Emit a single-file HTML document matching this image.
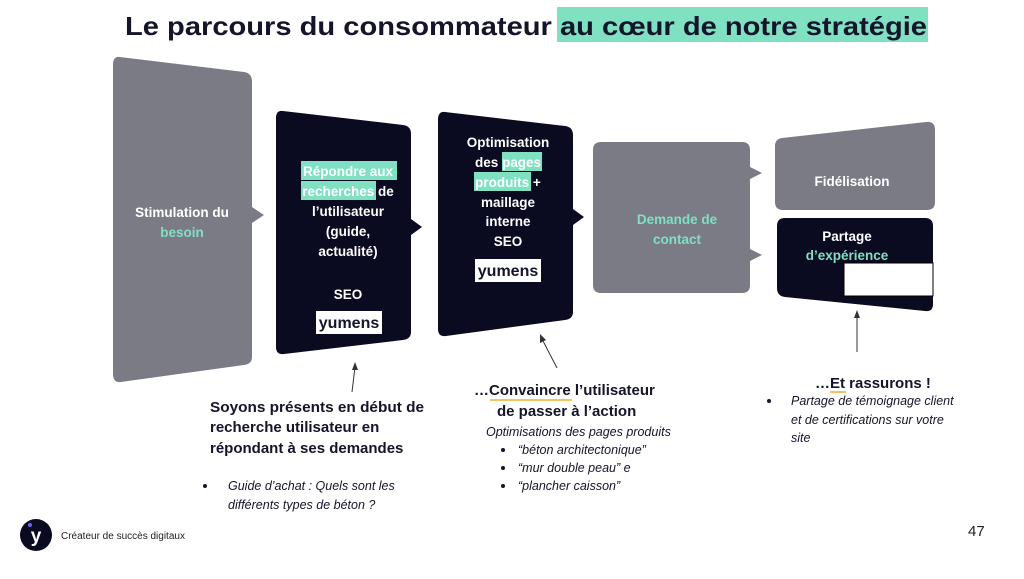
<!DOCTYPE html>
<html><head><meta charset="utf-8"><style>
html,body{margin:0;padding:0;background:#fff;}
svg{display:block;}
text{font-family:"Liberation Sans",sans-serif;}
.w{fill:#fff;font-weight:bold;font-size:13.5px;}
.g{fill:#7fe0c2;font-weight:bold;font-size:13.5px;}
.d{fill:#14142a;}
</style></head><body>
<svg width="1024" height="579" viewBox="0 0 1024 579" xmlns="http://www.w3.org/2000/svg">
<rect x="557" y="7" width="371" height="35" fill="#7fe0c2"/>
<text x="125" y="35" font-size="26" font-weight="bold" fill="#14142a" textLength="802" lengthAdjust="spacingAndGlyphs">Le parcours du consommateur au cœur de notre stratégie</text>

<path d="M120,57 L244,72 Q252,73 252,82 L252,207 L264,215 L252,223 L252,357 Q252,364 244,365 L121,382 Q113,383 113,374 L113,65 Q113,56 120,57Z" fill="#7b7b86"/>
<text class="w" x="182" y="217" text-anchor="middle">Stimulation du</text>
<text class="g" x="182" y="237" text-anchor="middle">besoin</text>

<path d="M283,111 L403,125 Q411,126 411,134 L411,219 L422,227 L411,235 L411,332 Q411,339 403,340 L284,354 Q276,355 276,347 L276,118 Q276,110 283,111Z" fill="#0a0a20"/>
<rect x="301" y="161" width="96" height="19" fill="#7fe0c2"/>
<rect x="301" y="181" width="75" height="19" fill="#7fe0c2"/>
<text class="w" x="348" y="176" text-anchor="middle">Répondre aux</text>
<text class="w" x="348" y="196" text-anchor="middle">recherches de</text>
<text class="w" x="348" y="216" text-anchor="middle">l’utilisateur</text>
<text class="w" x="348" y="236" text-anchor="middle">(guide,</text>
<text class="w" x="348" y="256" text-anchor="middle">actualité)</text>
<text class="w" x="348" y="299" text-anchor="middle">SEO</text>
<rect x="316" y="311" width="66" height="23" fill="#fff"/>
<text x="349" y="328" text-anchor="middle" font-size="16" fill="#14142a" font-weight="bold">yumens</text>

<path d="M445,112 L565,126 Q573,127 573,135 L573,209 L584,217 L573,225 L573,312 Q573,319 565,320 L446,336 Q438,337 438,329 L438,120 Q438,111 445,112Z" fill="#0a0a20"/>
<rect x="502" y="152" width="40" height="19" fill="#7fe0c2"/>
<rect x="474" y="172" width="57" height="19" fill="#7fe0c2"/>
<text class="w" x="508" y="147" text-anchor="middle">Optimisation</text>
<text class="w" x="508" y="167" text-anchor="middle">des pages</text>
<text class="w" x="508" y="187" text-anchor="middle">produits +</text>
<text class="w" x="508" y="207" text-anchor="middle">maillage</text>
<text class="w" x="508" y="226" text-anchor="middle">interne</text>
<text class="w" x="508" y="246" text-anchor="middle">SEO</text>
<rect x="475" y="259" width="66" height="23" fill="#fff"/>
<text x="508" y="276" text-anchor="middle" font-size="16" fill="#14142a" font-weight="bold">yumens</text>

<path d="M601,142 L742,142 Q750,142 750,150 L750,167 L762,173 L750,179 L750,249 L762,255 L750,261 L750,285 Q750,293 742,293 L601,293 Q593,293 593,285 L593,150 Q593,142 601,142Z" fill="#7b7b86"/>
<text class="g" x="677" y="224" text-anchor="middle">Demande de</text>
<text class="g" x="677" y="244" text-anchor="middle">contact</text>

<path d="M782,138 L926,122 Q935,121 935,130 L935,202 Q935,210 927,210 L783,210 Q775,210 775,202 L775,146 Q775,139 782,138Z" fill="#7b7b86"/>
<text class="w" x="852" y="186" text-anchor="middle">Fidélisation</text>

<path d="M785,218 L925,218 Q933,218 933,226 L933,304 Q933,312 925,311 L785,297 Q777,296 777,288 L777,226 Q777,218 785,218Z" fill="#0a0a20"/>
<text class="w" x="847" y="241" text-anchor="middle">Partage</text>
<text class="g" x="847" y="260" text-anchor="middle">d’expérience</text>
<rect x="844" y="263" width="89" height="33" fill="#fff" stroke="#000" stroke-width="1"/>

<g stroke="#333" stroke-width="1" fill="#333">
<line x1="352" y1="392" x2="355" y2="367"/><path d="M355,362 L352,370 L358,370Z" stroke="none"/>
<line x1="557" y1="368" x2="542" y2="339"/><path d="M540,334 L540,343 L546,340Z" stroke="none"/>
<line x1="857" y1="352" x2="857" y2="315"/><path d="M857,310 L854,318 L860,318Z" stroke="none"/>
</g>

<g class="d" font-weight="bold" font-size="15">
<text x="210" y="412" textLength="214" lengthAdjust="spacingAndGlyphs">Soyons présents en  début de</text>
<text x="210" y="432">recherche utilisateur en</text>
<text x="210" y="453">répondant à ses demandes</text>
<text x="474" y="395">…Convaincre l’utilisateur</text>
<text x="497" y="416">de passer à l’action</text>
<text x="815" y="388">…Et rassurons !</text>
</g>
<line x1="490" y1="400" x2="572" y2="400" stroke="#f0b030" stroke-width="1.5"/>
<line x1="830" y1="392" x2="846" y2="392" stroke="#f0b030" stroke-width="1.5"/>
<g class="d" font-style="italic" font-size="12.5">
<text x="486" y="436">Optimisations des pages produits</text>
<text x="518" y="454">“béton architectonique”</text>
<text x="518" y="472">“mur double peau” e</text>
<text x="518" y="490">“plancher caisson”</text>
<text x="228" y="490">Guide d’achat : Quels sont les</text>
<text x="228" y="509">différents types de béton ?</text>
<text x="791" y="405">Partage de témoignage client</text>
<text x="791" y="424">et de certifications sur votre</text>
<text x="791" y="442">site</text>
</g>
<g fill="#14142a">
<circle cx="503" cy="450" r="2"/><circle cx="503" cy="468" r="2"/><circle cx="503" cy="486" r="2"/>
<circle cx="205" cy="486" r="2"/><circle cx="769" cy="401" r="2"/>
</g>

<circle cx="36" cy="535" r="16" fill="#0a0a20"/>
<text x="36" y="542" text-anchor="middle" fill="#fff" font-weight="bold" font-size="19">y</text>
<circle cx="30" cy="525" r="2" fill="#7b5cff"/>
<text x="61" y="539" font-size="10" fill="#222">Créateur de succès digitaux</text>
<text x="968" y="536" font-size="15" fill="#222">47</text>
</svg>
</body></html>
